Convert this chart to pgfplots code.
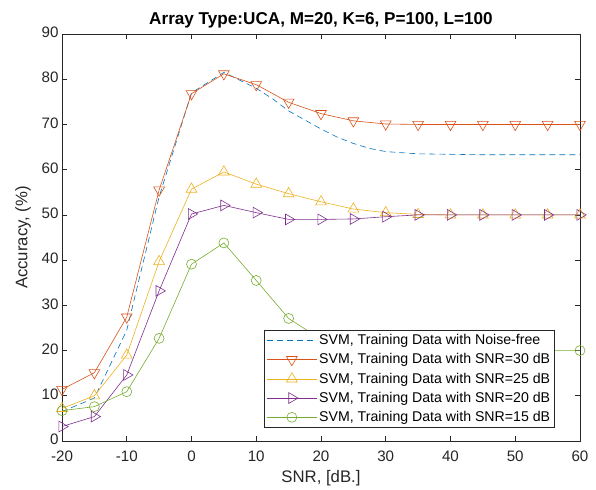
\documentclass[border=0pt]{standalone}
\usepackage{pgfplots}
\pgfplotsset{compat=1.18}
\usepackage{fontspec}
\setmainfont{Liberation Sans}
\definecolor{mblue}{rgb}{0,0.447,0.741}
\definecolor{mred}{rgb}{0.85,0.325,0.098}
\definecolor{myellow}{rgb}{0.929,0.694,0.125}
\definecolor{mpurple}{rgb}{0.494,0.184,0.556}
\definecolor{mgreen}{rgb}{0.466,0.674,0.188}
\definecolor{maxis}{rgb}{0.15,0.15,0.15}
\begin{document}
\begin{tikzpicture}
\useasboundingbox (-62bp,-49bp) rectangle (534bp,441bp);
\begin{axis}[
  at={(0,0)}, anchor=south west,
  scale only axis, width=518bp, height=407bp,
  xmin=-20, xmax=60, ymin=0, ymax=90,
  xtick={-20,-10,...,60}, ytick={0,10,...,90},
  xticklabels={-20,-10,0,10,20,30,40,50,60},
  yticklabels={0,10,20,30,40,50,60,70,80,90},
  tick align=inside, major tick length=5bp,
  axis line style={maxis, line width=0.6bp},
  every tick/.style={maxis, line width=0.6bp},
  tick label style={font=\fontsize{15.2}{17}\selectfont, text=maxis},
  xticklabel style={yshift=-6bp},
  yticklabel style={xshift=0bp, yshift=1.5bp},
  xlabel={SNR, [dB.]},
  ylabel={Accuracy, (\%)},
  label style={font=\fontsize{16.8}{19}\selectfont, text=maxis},
  x label style={at={(axis description cs:0.5,-0.0909)}, anchor=center},
  y label style={at={(axis description cs:-0.0753,0.5)}, anchor=center},
  title={Array Type:UCA, M=20, K=6, P=100, L=100},
  title style={font=\fontsize{17.2}{19}\selectfont\bfseries, at={(axis description cs:0.5,1.0197)}, anchor=center},
  legend style={at={(axis description cs:0.9517,0.032)}, anchor=south east,
    font=\fontsize{14.2}{16}\selectfont, draw=maxis, line width=0.6bp, fill=white,
    row sep=3.5bp, inner sep=2.5bp},
  legend cell align=left,
  legend image code/.code={
    \draw[mark repeat=2, mark phase=2] plot coordinates {(0bp,0bp) (25bp,0bp) (50bp,0bp)};
  },
  every axis plot/.append style={line width=0.6bp},
]
\addplot[mblue, dash pattern=on 6bp off 4bp] coordinates {
(-20,6.5) (-15,9.5) (-10,24.5) (-5,54) (0,77) (5,81.5) (10,78) (12.5,75.7) (15,73) (17.5,71) (20,69)
(22.5,67.2) (25,65.8) (27.5,64.7) (30,64) (35,63.5) (40,63.4) (45,63.3) (50,63.3) (55,63.3) (60,63.3)};
\addlegendentry{SVM, Training Data with Noise-free}
\addplot[mred, mark=triangle, mark options={rotate=180, solid}, mark size=6.2bp] coordinates {
(-20,11.4) (-15,15.1) (-10,27.4) (-5,55.5) (0,76.8) (5,81.2) (10,78.8) (15,74.9) (20,72.4) (25,70.8)
(30,70.1) (35,70) (40,70) (45,70) (50,70) (55,70) (60,70)};
\addlegendentry{SVM, Training Data with SNR=30 dB}
\addplot[myellow, mark=triangle, mark size=6.2bp] coordinates {
(-20,7.2) (-15,10) (-10,19) (-5,39.7) (0,55.7) (5,59.5) (10,56.8) (15,54.7) (20,52.9) (25,51.3)
(30,50.5) (35,50.1) (40,50) (45,50) (50,50) (55,50) (60,50)};
\addlegendentry{SVM, Training Data with SNR=25 dB}
\addplot[mpurple, mark=triangle, mark options={rotate=-90}, mark size=6.2bp] coordinates {
(-20,3.2) (-15,5.4) (-10,14.6) (-5,33.2) (0,50.2) (5,52.1) (10,50.5) (15,49) (20,49) (25,49.1)
(30,49.6) (35,50) (40,50) (45,50) (50,50) (55,50) (60,50)};
\addlegendentry{SVM, Training Data with SNR=20 dB}
\addplot[mgreen, mark=o, mark size=5bp] coordinates {
(-20,6.7) (-15,7.6) (-10,10.9) (-5,22.7) (0,39.1) (5,43.8) (10,35.5) (15,27.1) (20,22.5) (25,20.6)
(30,20.1) (35,20) (40,20) (45,20) (50,20) (55,20) (60,20)};
\addlegendentry{SVM, Training Data with SNR=15 dB}
\end{axis}
\end{tikzpicture}
\end{document}
